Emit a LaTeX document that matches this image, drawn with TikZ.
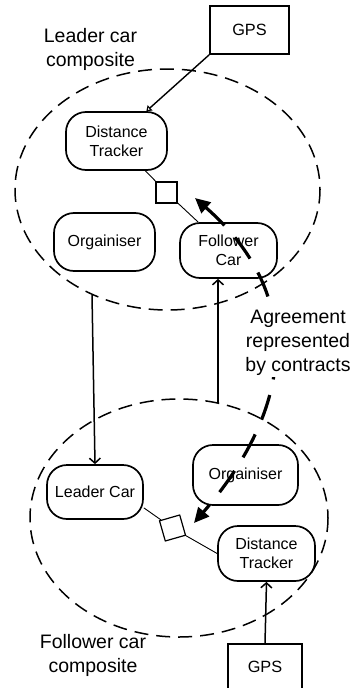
\documentclass[tikz,border=0pt]{standalone}
\usepackage{fontspec}
\setmainfont{Liberation Sans}
\usetikzlibrary{arrows.meta}
\begin{document}
\begin{tikzpicture}[x=1pt,y=-1pt,
  comp/.style={draw, line width=1.7pt, rounded corners=20pt, fill=white,
    align=center, inner sep=0pt, font=\fontsize{16}{19}\selectfont},
  gpsbox/.style={draw, line width=1.6pt, fill=white, inner sep=0pt,
    font=\fontsize{16.3}{19}\selectfont},
  port/.style={draw, line width=1.2pt, fill=white, minimum size=21pt, inner sep=0pt},
  composite/.style={draw, dashed, dash pattern=on 14pt off 8pt, line width=1.5pt},
  label/.style={align=center, inner sep=1pt, font=\fontsize{19.5}{24}\selectfont},
  link/.style={line width=0.9pt},
  flow/.style={line width=1.5pt, -{Straight Barb[length=5pt,width=11pt,line width=1.5pt]}},
  gpsflow/.style={line width=1.4pt, -{Triangle[open,length=5pt,width=7pt,line width=1.1pt]}},
  agree/.style={line width=3.2pt, dash pattern=on 26pt off 16pt,
    {Triangle[length=15pt,width=14pt]}-{Triangle[length=15pt,width=14pt]}}
]
\useasboundingbox (0,0) rectangle (355,688);
\clip (0,0) rectangle (355,688);

% composite boundaries
\draw[composite] (167.5,189.5) ellipse [x radius=152.5, y radius=120.5];
\draw[composite] (179,518) ellipse [x radius=149, y radius=119];

% composite labels
\node[label] (ltitle) at (90.5,49) {Leader car\\composite};
\node[label] (ftitle) at (93,655) {Follower car\\composite};

% leader car composite
\node[gpsbox, minimum width=79pt, minimum height=48pt] (gps1) at (249.5,30) {GPS};
\node[comp, minimum width=101pt, minimum height=58pt] (dt1) at (116.5,141) {Distance\\Tracker};
\node[comp, minimum width=101pt, minimum height=58pt] (org1) at (104.5,242) {Orgainiser};
\node[comp, minimum width=97pt, minimum height=55pt] (fc1) at (228.5,250.5) {Follower\\Car};
\node[port] (sq1) at (166.5,192.5) {};

% follower car composite
\node[comp, minimum width=96pt, minimum height=54pt] (lc2) at (95,492) {Leader Car};
\node[comp, minimum width=105pt, minimum height=60pt] (org2) at (245.5,475) {Orgainiser};
\node[comp, minimum width=97pt, minimum height=55pt] (dt2) at (266.5,553.5) {Distance\\Tracker};
\node[port, rotate=16] (sq2) at (172.5,528) {};
\node[gpsbox, minimum width=74pt, minimum height=46pt] (gps2) at (265,667) {GPS};

% port links
\draw[link] (dt1) -- (sq1);
\draw[link] (sq1) -- (fc1);
\draw[link] (lc2.-18) -- (sq2);
\draw[link] (sq2) -- (dt2.west);

% GPS inputs
\draw[gpsflow] (gps1.south west) -- (dt1.45);
\draw[flow] (gps2.north) -- (dt2.south);

% links between the composites
\coordinate (outL) at (92,295);
\coordinate (outF) at (218,403);
\draw[flow] (outL) -- (lc2.north);
\draw[flow] (outF) -- (fc1.south -| outF);

% agreement between the two ports
\draw[agree] (195,198) .. controls (300,290) and (300,400) .. (194,523);
\node[label, fill=white] (agr) at (298,343) {Agreement\\represented\\by contracts};
\end{tikzpicture}
\end{document}
